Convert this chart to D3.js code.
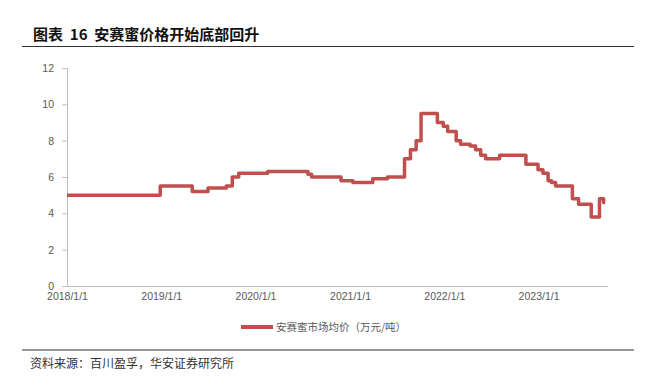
<!DOCTYPE html>
<html><head><meta charset="utf-8">
<script src="https://cdn.jsdelivr.net/npm/d3@7"></script>
<style>
body{margin:0;background:#fff;}
svg{display:block;}
</style></head>
<body>
<svg id="c" width="661" height="378"></svg>
<script>
const title = "图表 16 安赛蜜价格开始底部回升";
const source = "资料来源：百川盈孚，华安证券研究所";
const seriesName = "安赛蜜市场均价（万元/吨）";
const yTicks = [0, 2, 4, 6, 8, 10, 12];
const xTickLabels = ["2018/1/1", "2019/1/1", "2020/1/1", "2021/1/1", "2022/1/1", "2023/1/1"];
// change points (step after)
const dates = ["2018-01-01","2018-12-28","2019-05-01","2019-07-01","2019-09-10","2019-10-03","2019-10-28","2020-02-17","2020-07-22","2020-08-05","2020-11-27","2021-01-12","2021-03-30","2021-05-26","2021-07-31","2021-08-23","2021-09-14","2021-10-03","2021-12-05","2021-12-28","2022-01-14","2022-02-16","2022-03-05","2022-04-11","2022-05-02","2022-05-22","2022-06-10","2022-08-03","2022-11-13","2022-12-30","2023-01-18","2023-02-07","2023-02-20","2023-03-08","2023-05-12","2023-06-05","2023-07-24","2023-08-25","2023-09-10","2023-09-16"];
const values = [5.0,5.5,5.2,5.4,5.5,6.0,6.2,6.3,6.15,6.0,5.8,5.7,5.9,6.0,7.0,7.5,8.0,9.5,9.0,8.8,8.5,8.0,7.8,7.7,7.5,7.2,7.0,7.2,6.7,6.4,6.2,5.8,5.7,5.5,4.8,4.5,3.8,4.8,4.6,4.6];

const parse = d3.timeParse("%Y-%m-%d");
const data = dates.map((d,i)=>({date:parse(d), value:values[i]}));
const svg = d3.select("#c");
const cn = "'Noto Sans CJK SC', sans-serif";
const latin = "'Liberation Sans', Arial, sans-serif";

const x = d3.scaleTime().domain([parse("2018-01-01"), parse("2023-09-25")]).range([67, 607.5]);
const y = d3.scaleLinear().domain([0,12]).range([286, 68]);

// title
svg.append("text").attr("x",33).attr("y",40).attr("font-family",cn).attr("font-weight","bold")
  .attr("font-size",15).attr("fill","#111").attr("xml:space","preserve").style("white-space","pre")
  .text(title.replace(" 16 ", "  16  "));
svg.append("line").attr("x1",22).attr("x2",634).attr("y1",46.5).attr("y2",46.5).attr("stroke","#333").attr("stroke-width",1.2);

// y axis
const ya = svg.append("g").attr("transform","translate(67,0)")
  .call(d3.axisLeft(y).tickValues(yTicks).tickSize(5).tickPadding(8));
ya.select(".domain").attr("stroke","#bfbfbf");
ya.selectAll(".tick line").attr("stroke","#bfbfbf");
ya.selectAll("text").attr("font-family",latin).attr("font-size",10.5).attr("fill","#595959");

// x axis
const xTickDates = xTickLabels.map(s=>d3.timeParse("%Y/%m/%d")(s));
const xa = svg.append("g").attr("transform","translate(0,286)")
  .call(d3.axisBottom(x).tickValues(xTickDates).tickSize(0).tickPadding(7).tickFormat((d,i)=>xTickLabels[i]));
xa.select(".domain").attr("stroke","#bfbfbf");
xa.selectAll("text").attr("font-family",latin).attr("font-size",10.5).attr("fill","#595959");

// line
const line = d3.line().x(d=>x(d.date)).y(d=>y(d.value)).curve(d3.curveStepAfter);
svg.append("path").datum(data).attr("d",line).attr("fill","none")
  .attr("stroke","#c0504d").attr("stroke-width",3.5).attr("stroke-linejoin","round");

// legend
svg.append("line").attr("x1",241).attr("x2",273).attr("y1",327).attr("y2",327)
  .attr("stroke","#c0504d").attr("stroke-width",4);
svg.append("text").attr("x",276).attr("y",331).attr("font-family",cn).attr("font-size",10.5)
  .attr("fill","#595959").text(seriesName);

// footer
svg.append("line").attr("x1",22).attr("x2",634).attr("y1",350).attr("y2",350).attr("stroke","#333").attr("stroke-width",1.2);
svg.append("text").attr("x",30).attr("y",368).attr("font-family",cn).attr("font-size",12)
  .attr("fill","#333").text(source);
</script>
</body></html>
